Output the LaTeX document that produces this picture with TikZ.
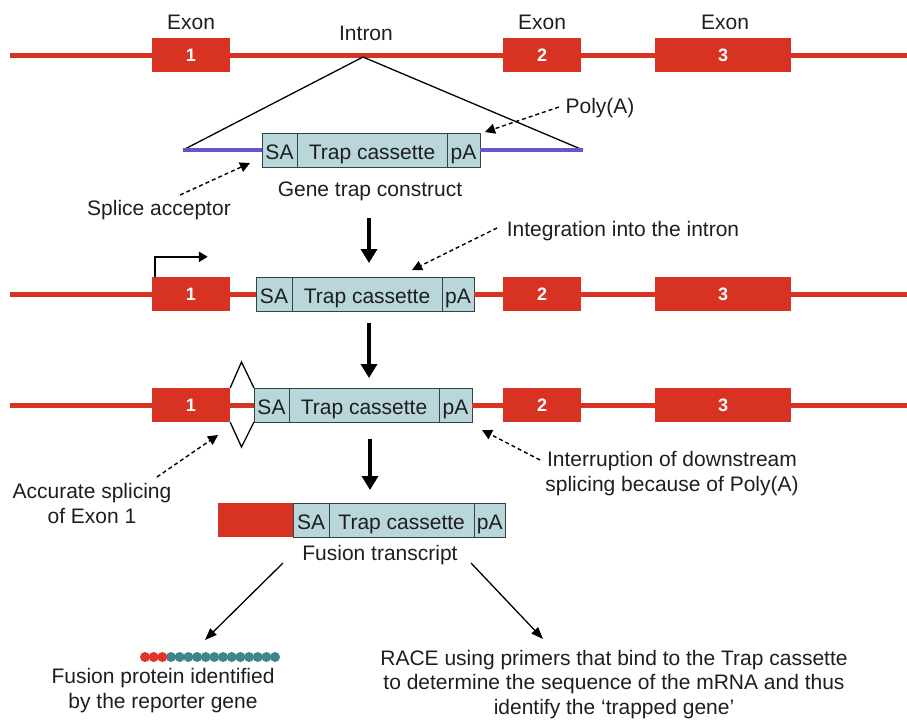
\documentclass[tikz,border=0pt]{standalone}
\usepackage{fontspec}
\setmainfont{Liberation Sans}
\usetikzlibrary{arrows.meta,positioning}
\definecolor{genered}{HTML}{D83222}
\definecolor{casfill}{HTML}{B9D6DA}
\definecolor{casline}{HTML}{2E4548}
\definecolor{vecblue}{HTML}{6655CC}
\definecolor{beadred}{HTML}{E0342A}
\definecolor{beadteal}{HTML}{3E868B}
\definecolor{ink}{HTML}{1E1E1E}
\tikzset{
  dna/.style={draw=genered,line width=5pt},
  exon/.style={fill=genered,minimum width=78pt,minimum height=34pt,inner sep=0pt,
    text=white,font=\bfseries\fontsize{18}{18}\selectfont},
  cas/.style={draw=casline,fill=casfill,line width=1pt,minimum height=34pt,
    inner sep=0pt,outer sep=0pt,text height=19pt,text depth=0pt,
    text=ink,font=\fontsize{21}{21}\selectfont},
  lbl/.style={inner sep=0pt,align=center,text=ink,font=\fontsize{21}{24.5}\selectfont},
  vector/.style={draw=vecblue,line width=4pt},
  pointer/.style={line width=1.4pt,dash pattern=on 4pt off 3pt,
    -{Triangle[width=10pt,length=10pt]}},
  bigarrow/.style={line width=4.5pt,-{Triangle[width=16pt,length=14pt]}},
  link/.style={line width=1.3pt,-{Triangle[width=9pt,length=12pt]}},
  promoter/.style={line width=2.5pt,-{Triangle[width=10pt,length=9pt]}},
  splice/.style={line width=1.3pt,line join=miter},
}
\begin{document}
\begin{tikzpicture}[x=1pt,y=-1pt]
  \useasboundingbox (0,0) rectangle (907,720);
  % wild type gene
  \node[exon] (e1a) at (191,55) {1};
  \node[exon] (e2a) at (542,55) {2};
  \node[exon,minimum width=136pt] (e3a) at (723,55) {3};
  \coordinate (l1) at (10,55);
  \coordinate (r1) at (907,55);
  \draw[dna] (l1) -- (e1a) -- (e2a) -- (e3a) -- (r1);
  \node[lbl,anchor=base] (x1) at (191,29) {Exon};
  \node[lbl,anchor=base] (x2) at (542,29) {Exon};
  \node[lbl,anchor=base] (x3) at (725,29) {Exon};
  \node[lbl,anchor=base] (intron) at (366,40) {Intron};
  % gene trap construct
  \node[cas,minimum width=35pt] (sa1) at (279.5,150) {SA};
  \node[cas,minimum width=150pt,right=0pt of sa1] (tc1) {Trap cassette};
  \node[cas,minimum width=33pt,right=0pt of tc1] (pa1) {pA};
  \coordinate (apex) at (363,57);
  \coordinate (tl) at (183,150);
  \coordinate (tr) at (583,150);
  \draw[line width=1.3pt] (tl) -- (apex) -- (tr);
  \draw[vector] (tl) -- (sa1);
  \draw[vector] (pa1) -- (tr);
  \node[lbl,anchor=base] (gtc) at (370,196) {Gene trap construct};
  \node[lbl,anchor=base] (spl) at (159,215) {Splice acceptor};
  \node[lbl,anchor=base] (poly) at (600,113) {Poly(A)};
  \coordinate (spltail) at (180,195);
  \coordinate (spltip) at (250,163);
  \coordinate (polytail) at (559,107);
  \coordinate (polytip) at (485,132);
  \draw[pointer] (spltail) -- (spltip);
  \draw[pointer] (polytail) -- (polytip);
  % integrated allele
  \node[exon] (e1b) at (191,294) {1};
  \node[cas,minimum width=36pt] (sa2) at (274,294) {SA};
  \node[cas,minimum width=150pt,right=0pt of sa2] (tc2) {Trap cassette};
  \node[cas,minimum width=32pt,right=0pt of tc2] (pa2) {pA};
  \node[exon] (e2b) at (542,294) {2};
  \node[exon,minimum width=136pt] (e3b) at (723,294) {3};
  \coordinate (l2) at (10,294);
  \coordinate (r2) at (907,294);
  \draw[dna] (l2) -- (e1b) -- (sa2);
  \draw[dna] (pa2) -- (e2b) -- (e3b) -- (r2);
  \draw[promoter] ([xshift=3pt]e1b.north west) -- ++(0,-20) -- ++(53,0);
  \node[lbl,anchor=base] (integ) at (623,236) {Integration into the intron};
  \coordinate (integtail) at (497,228);
  \coordinate (integtip) at (412,270);
  \draw[pointer] (integtail) -- (integtip);
  % splicing
  \node[exon] (e1c) at (191,405) {1};
  \node[cas,minimum width=35pt] (sa3) at (271.5,405) {SA};
  \node[cas,minimum width=150pt,right=0pt of sa3] (tc3) {Trap cassette};
  \node[cas,minimum width=33pt,right=0pt of tc3] (pa3) {pA};
  \node[exon] (e2c) at (542,405) {2};
  \node[exon,minimum width=136pt] (e3c) at (723,405) {3};
  \draw[splice] (e1c.north east) -- (241.5,362) -- (sa3.north west);
  \draw[splice] (e1c.south east) -- (241.5,447) -- (sa3.south west);
  \coordinate (l3) at (10,405);
  \coordinate (r3) at (907,405);
  \draw[dna] (l3) -- (e1c) -- (sa3);
  \draw[dna] (pa3) -- (e2c) -- (e3c) -- (r3);
  \node[lbl,anchor=base] (acc) at (92,523) {Accurate splicing\\of Exon 1};
  \node[lbl,anchor=base] (intr) at (672,491) {Interruption of downstream\\splicing because of Poly(A)};
  \coordinate (acctail) at (157,477);
  \coordinate (acctip) at (218,435);
  \coordinate (intrtail) at (540,460);
  \coordinate (intrtip) at (482,430);
  \draw[pointer] (acctail) -- (acctip);
  \draw[pointer] (intrtail) -- (intrtip);
  % fusion transcript
  \node[exon,minimum width=75pt] (fus) at (255.5,520) {};
  \node[cas,minimum width=36pt,right=0pt of fus] (sa4) {SA};
  \node[cas,minimum width=145pt,right=0pt of sa4] (tc4) {Trap cassette};
  \node[cas,minimum width=31pt,right=0pt of tc4] (pa4) {pA};
  \node[lbl,anchor=base] (ft) at (380,560) {Fusion transcript};
  % steps
  \draw[bigarrow,shorten <=17pt,shorten >=14pt] ([xshift=-1pt]gtc.south) -- ([xshift=-1pt]gtc.south |- tc2.north);
  \draw[bigarrow,shorten <=12pt,shorten >=10pt] ([xshift=2pt]tc2.south) -- ([xshift=2pt]tc2.south |- tc3.north);
  \draw[bigarrow,shorten <=17pt,shorten >=13pt] ([xshift=6pt]tc3.south) -- ([xshift=6pt]tc3.south |- tc4.north);
  % outcomes
  \foreach \i in {3,...,15}
    \fill[beadteal] ({145+8.67*\i},657) circle (5pt);
  \foreach \i in {0,1,2}
    \fill[beadred] ({145+8.67*\i},657) circle (5pt);
  \node[lbl,anchor=base] (fp) at (163,708) {Fusion protein identified\\by the reporter gene};
  \node[lbl,anchor=base] (race) at (614,714) {RACE using primers that bind to the Trap cassette\\to determine the sequence of the mRNA and thus\\identify the `trapped gene'};
  \coordinate (ftl) at (283,563);
  \coordinate (fpt) at (205,640);
  \coordinate (ftr) at (471,563);
  \coordinate (rct) at (543,639);
  \draw[link] (ftl) -- (fpt);
  \draw[link] (ftr) -- (rct);
\end{tikzpicture}
\end{document}
